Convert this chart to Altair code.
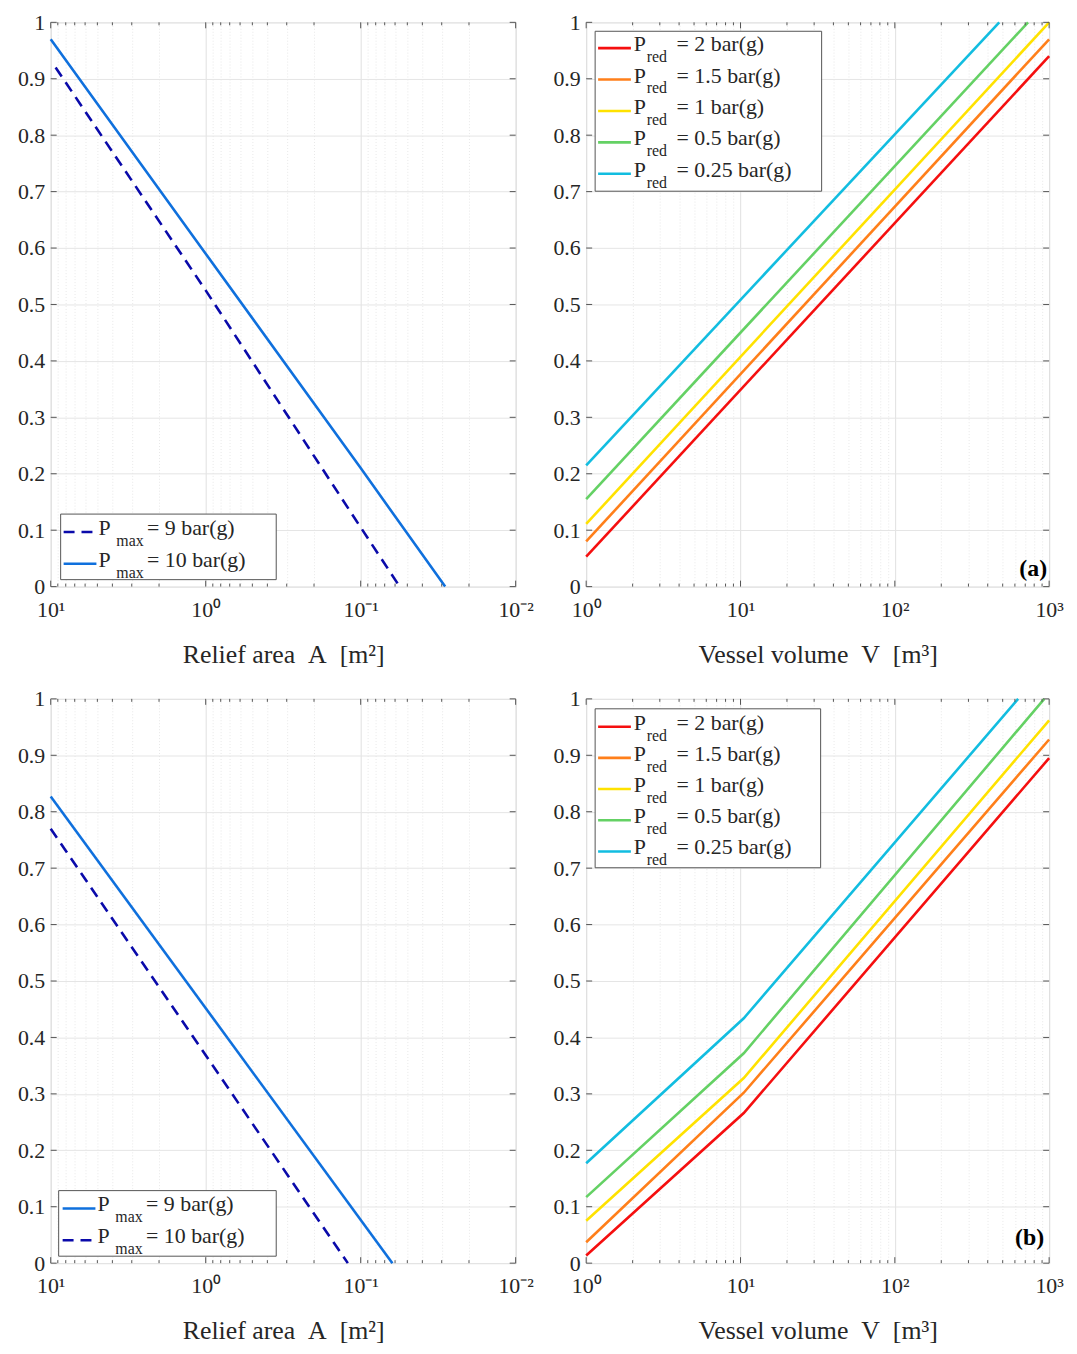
import altair as alt
import pandas as pd

FONT = "Liberation Serif"
TXT = "#262626"

# ---------------- data ----------------
# Panel (a), relief area
a_left_p9_area = [9.3, 1.0, 0.1, 0.056]
a_left_p9_y = [0.92, 0.525, 0.105, 0.0]
a_left_p10_area = [10.0, 1.0, 0.1, 0.0285]
a_left_p10_y = [0.97, 0.59, 0.21, 0.0]

# Panel (a), vessel volume
a_red_V = [1, 1000]
a_red_y = [0.053, 0.94]
a_orange_V = [1, 1000]
a_orange_y = [0.08, 0.97]
a_yellow_V = [1, 1000]
a_yellow_y = [0.111, 1.0]
a_green_V = [1, 730]
a_green_y = [0.155, 1.0]
a_cyan_V = [1, 475]
a_cyan_y = [0.215, 1.0]

# Panel (b), relief area
b_left_p9_area = [10.0, 0.0624]
b_left_p9_y = [0.827, 0.0]
b_left_p10_area = [10.0, 0.121]
b_left_p10_y = [0.77, 0.0]

# Panel (b), vessel volume
b_red_V = [1, 10.5, 1000]
b_red_y = [0.0135, 0.266, 0.895]
b_orange_V = [1, 10.5, 1000]
b_orange_y = [0.037, 0.302, 0.928]
b_yellow_V = [1, 10.5, 1000]
b_yellow_y = [0.075, 0.328, 0.962]
b_green_V = [1, 10.5, 930]
b_green_y = [0.117, 0.372, 1.0]
b_cyan_V = [1, 10.5, 630]
b_cyan_y = [0.177, 0.434, 1.0]

pred_labels = ["2", "1.5", "1", "0.5", "0.25"]
pmax_labels = ["9", "10"]
area_major = [0.01, 0.1, 1, 10]
area_labels = ["10⁻²", "10⁻¹", "10⁰", "10¹"]
vol_major = [1, 10, 100, 1000]
vol_labels = ["10⁰", "10¹", "10²", "10³"]
y_ticks = [0, 0.1, 0.2, 0.3, 0.4, 0.5, 0.6, 0.7, 0.8, 0.9, 1]

# ---------------- styles ----------------
BRIGHT_BLUE = "#0F70DD"
DARK_BLUE = "#0A0AAA"
C_RED = "#F50F0F"
C_ORANGE = "#FF7F1A"
C_YELLOW = "#FFE200"
C_GREEN = "#64D164"
C_CYAN = "#12BDE0"
DASH = [11, 7]
LW = 2.6

W_L, W_R, H = 468, 466, 568


def minors(k0, k1):
    out = []
    for k in range(k0, k1):
        for m in range(2, 10):
            out.append(round(m * 10 ** k, 6))
    return out


def x_axis(majors, labels, minor_vals, title):
    expr = " : ".join(f"datum.value == {v} ? '{s}'" for v, s in zip(majors, labels)) + " : ''"
    test_minor = "indexof([" + ",".join(str(v) for v in majors) + "], datum.value) < 0"
    return alt.Axis(
        values=majors + minor_vals, labelExpr=expr, title=title,
        grid=True,
        gridColor={"condition": {"test": test_minor, "value": "#e8e8e8"}, "value": "#e0e0e0"},
        gridDash={"condition": {"test": test_minor, "value": [1, 2]}, "value": []},
        gridWidth=1,
        ticks=False, domain=False, labelOverlap=False, labelFlush=False,
        labelFont=FONT, labelFontSize=22, labelColor=TXT, labelPadding=13,
        titleFont=FONT, titleFontSize=26, titleFontWeight="normal", titleColor=TXT,
        titlePadding=21,
    )


y_axis = alt.Axis(
    values=y_ticks, title=None, grid=True, gridColor="#e5e5e5", gridWidth=1,
    ticks=False, domain=False, labelOverlap=False, labelFlush=False,
    labelExpr="datum.value == 0 ? '0' : datum.value == 1 ? '1' : format(datum.value, '.1f')",
    labelFont=FONT, labelFontSize=22, labelColor=TXT, labelPadding=6,
)
y_scale = alt.Scale(domain=[0, 1], nice=False, zero=False)

area_scale = alt.Scale(type="log", domain=[0.01, 10], reverse=True, nice=False)
vol_scale = alt.Scale(type="log", domain=[1, 1000], nice=False)
area_minor = minors(-2, 1)
vol_minor = minors(0, 3)
area_axis = x_axis(area_major, area_labels, area_minor, "Relief area\u00a0\u00a0A\u00a0\u00a0[m²]")
vol_axis = x_axis(vol_major, vol_labels, vol_minor, "Vessel volume\u00a0\u00a0V\u00a0\u00a0[m³]")


def line(xs, ys, xscale, xaxis, color, dash=None):
    df = pd.DataFrame({"x": xs, "y": ys})
    kw = dict(color=color, strokeWidth=LW, strokeCap="butt")
    if dash:
        kw["strokeDash"] = dash
    return alt.Chart(df).mark_line(**kw).encode(
        x=alt.X("x:Q", scale=xscale, axis=xaxis),
        y=alt.Y("y:Q", scale=y_scale, axis=y_axis),
    )


def tick_layers(majors, minor_vals, xscale, xaxis, width):
    layers = []
    for vals, ln in ((majors, 6), (minor_vals, 3)):
        d = pd.DataFrame({"x": vals})
        for y0, y1 in ((H, H - ln), (0, ln)):
            layers.append(alt.Chart(d).mark_rule(color="#555555", strokeWidth=1).encode(
                x=alt.X("x:Q", scale=xscale, axis=xaxis), y=alt.value(y0), y2=alt.value(y1)))
    d = pd.DataFrame({"y": y_ticks})
    for x0, x1 in ((0, 6), (width, width - 6)):
        layers.append(alt.Chart(d).mark_rule(color="#555555", strokeWidth=1).encode(
            y=alt.Y("y:Q", scale=y_scale, axis=y_axis), x=alt.value(x0), x2=alt.value(x1)))
    return layers


def legend(entries, sub, box, xl, xp, xs, xe, y0, dy):
    one = alt.Data(values=[{"k": 0}])
    layers = [alt.Chart(one).mark_rect(fill="white", stroke="#555555", strokeWidth=1).encode(
        x=alt.value(box[0]), x2=alt.value(box[1]), y=alt.value(box[2]), y2=alt.value(box[3]))]
    for i, (lab, color, dash) in enumerate(entries):
        yc = y0 + dy * i
        kw = dict(color=color, strokeWidth=LW)
        if dash:
            kw["strokeDash"] = dash
        layers.append(alt.Chart(one).mark_rule(**kw).encode(
            x=alt.value(xl[0]), x2=alt.value(xl[1]), y=alt.value(yc + 4)))
        layers.append(alt.Chart(one).mark_text(text="P", font=FONT, fontSize=22, color=TXT,
                                               align="left", baseline="middle").encode(
            x=alt.value(xp), y=alt.value(yc)))
        layers.append(alt.Chart(one).mark_text(text=sub, font=FONT, fontSize=16, color=TXT,
                                               align="left", baseline="middle").encode(
            x=alt.value(xs), y=alt.value(yc + 13)))
        layers.append(alt.Chart(one).mark_text(text=f"= {lab} bar(g)", font=FONT, fontSize=22,
                                               color=TXT, align="left", baseline="middle").encode(
            x=alt.value(xe), y=alt.value(yc)))
    return layers


def tag(text, x, y):
    one = alt.Data(values=[{"k": 0}])
    return alt.Chart(one).mark_text(text=text, font=FONT, fontSize=24, fontWeight="bold",
                                    color="#000000", align="right", baseline="middle").encode(
        x=alt.value(x), y=alt.value(y))


pred_colors = [C_RED, C_ORANGE, C_YELLOW, C_GREEN, C_CYAN]

# ---- top-left ----
tl = alt.layer(
    line(a_left_p10_area, a_left_p10_y, area_scale, area_axis, BRIGHT_BLUE),
    line(a_left_p9_area, a_left_p9_y, area_scale, area_axis, DARK_BLUE, DASH),
    *tick_layers(area_major, area_minor, area_scale, area_axis, W_L),
    *legend([(pmax_labels[0], DARK_BLUE, DASH), (pmax_labels[1], BRIGHT_BLUE, None)], "max",
            (10, 227, 495, 561), (13, 46), 48, 66, 97, 509, 32),
).properties(width=W_L, height=H)

# ---- top-right ----
a_series = [(a_red_V, a_red_y), (a_orange_V, a_orange_y), (a_yellow_V, a_yellow_y),
            (a_green_V, a_green_y), (a_cyan_V, a_cyan_y)]
tr = alt.layer(
    *[line(v, y, vol_scale, vol_axis, c) for (v, y), c in zip(a_series, pred_colors)],
    *tick_layers(vol_major, vol_minor, vol_scale, vol_axis, W_R),
    *legend(list(zip(pred_labels, pred_colors, [None] * 5)), "red",
            (9, 237, 9, 170), (12, 45), 48, 61, 91, 22, 31.6),
    tag("(a)", 464, 550),
).properties(width=W_R, height=H)

# ---- bottom-left ----
bl = alt.layer(
    line(b_left_p9_area, b_left_p9_y, area_scale, area_axis, BRIGHT_BLUE),
    line(b_left_p10_area, b_left_p10_y, area_scale, area_axis, DARK_BLUE, DASH),
    *tick_layers(area_major, area_minor, area_scale, area_axis, W_L),
    *legend([(pmax_labels[0], BRIGHT_BLUE, None), (pmax_labels[1], DARK_BLUE, DASH)], "max",
            (8, 227, 495, 561), (12, 45), 47, 65, 96, 509, 32),
).properties(width=W_L, height=H)

# ---- bottom-right ----
b_series = [(b_red_V, b_red_y), (b_orange_V, b_orange_y), (b_yellow_V, b_yellow_y),
            (b_green_V, b_green_y), (b_cyan_V, b_cyan_y)]
br = alt.layer(
    *[line(v, y, vol_scale, vol_axis, c) for (v, y), c in zip(b_series, pred_colors)],
    *tick_layers(vol_major, vol_minor, vol_scale, vol_axis, W_R),
    *legend(list(zip(pred_labels, pred_colors, [None] * 5)), "red",
            (9, 236, 10, 170), (12, 45), 48, 61, 91, 24, 31.4),
    tag("(b)", 461, 543),
).properties(width=W_R, height=H)

chart = alt.concat(
    tl, tr, bl, br, columns=2, spacing={"row": 113, "column": 71}, bounds="flush"
).properties(
    padding={"left": 9, "top": -2, "right": 5, "bottom": 0}
).configure_view(stroke="#555555", strokeWidth=1).configure(background="white")

chart.save("out.html", embed_options={"renderer": "svg", "actions": False})
